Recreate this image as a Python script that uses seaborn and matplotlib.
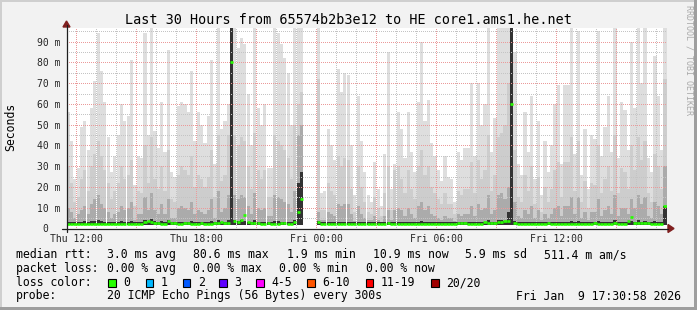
import numpy as np
import pandas as pd
import matplotlib
matplotlib.use("Agg")
import matplotlib.pyplot as plt
import seaborn as sns
from matplotlib.patches import Rectangle, Polygon
from matplotlib.lines import Line2D
from matplotlib.ticker import FixedLocator, MultipleLocator, FuncFormatter

nan = np.nan

# ---------------- data ----------------
title = "Last 30 Hours from 65574b2b3e12 to HE core1.ams1.he.net"
start_hour = -0.4839      # Thu 11:30:58, hours relative to Thu 12:00
bin_hours = 1 / 6         # 10-minute bins
min_rtt = 1.9             # ms

smoke_max = [
    56, 42, 24, 29, 49, 52, 38, 58, 71, 94, 76, 61, 44, 27, 35, 45, 60, 52, 54, 81, 21, 35, 34, 94, 45, 97, 47, 39, 61, 37,
    86, 27, 25, 59, 61, 60, 56, 76, 42, 56, 50, 41, 54, 81, 31, 97, 48, 52, 60, 97, 97, 87, 92, 89, 65, 40, 97, 58, 50, 60,
    29, 29, 97, 94, 89, 82, 75, 50, 97, 97, 97, nan, nan, nan, nan, 97, 17, 18, 48, 40, 33, 77, 66, 75, 74, 40, 16, 64, 42, 27,
    16, 13, 32, 19, 11, 36, 85, 19, 31, 56, 48, 34, 56, 37, 27, 61, 90, 52, 62, 41, 35, 28, 23, 35, 25, 24, 13, 37, 33, 39,
    39, 70, 35, 70, 50, 60, 97, 37, 53, 97, 97, 97, 97, 97, 85, 31, 26, 56, 37, 64, 24, 52, 16, 42, 27, 40, 60, 69, 31, 69,
    69, 97, 36, 95, 26, 48, 19, 45, 43, 95, 35, 49, 64, 37, 97, 34, 61, 57, 38, 90, 58, 97, 70, 97, 34, 27, 83, 64, 38, 97,
]
smoke_mid = [
    30, 22, 13, 15, 24, 28, 18, 30, 36, 42, 35, 28, 22, 14, 18, 22, 30, 24, 26, 33, 11, 18, 17, 40, 22, 44, 24, 19, 30, 18,
    38, 14, 13, 26, 30, 28, 26, 35, 20, 26, 24, 20, 25, 38, 15, 45, 23, 26, 45, 97, 45, 40, 44, 42, 30, 19, 46, 28, 24, 28,
    15, 15, 45, 42, 40, 38, 34, 24, 50, 60, 66, nan, nan, nan, nan, 72, 9, 9, 22, 18, 16, 35, 30, 34, 33, 19, 8, 30, 20, 13,
    8, 7, 15, 10, 6, 17, 30, 9, 28, 30, 24, 17, 28, 19, 14, 30, 38, 26, 30, 20, 17, 14, 12, 17, 12, 12, 7, 18, 16, 19,
    19, 32, 17, 33, 24, 28, 45, 18, 26, 44, 46, 50, 70, 97, 38, 15, 13, 26, 18, 30, 12, 25, 8, 20, 13, 19, 28, 32, 15, 32,
    32, 44, 18, 42, 13, 23, 10, 22, 21, 40, 17, 24, 30, 18, 45, 17, 29, 27, 19, 40, 28, 44, 33, 42, 17, 13, 36, 30, 19, 72,
]
smoke_low = [
    10, 8, 5, 7, 9, 11, 7, 12, 14, 16, 12, 10, 8, 5, 7, 8, 11, 9, 10, 13, 4, 7, 7, 15, 9, 17, 9, 7, 12, 7,
    14, 5, 5, 10, 11, 10, 9, 13, 7, 9, 8, 7, 9, 14, 5, 18, 8, 10, 16, 97, 16, 14, 16, 15, 11, 7, 17, 10, 9, 10,
    6, 6, 16, 15, 14, 13, 12, 8, 18, 45, 50, nan, nan, nan, nan, 8, 4, 4, 8, 7, 6, 12, 11, 12, 12, 7, 3.5, 11, 7, 5,
    4, 4, 6, 4, 3, 6, 9, 4, 9, 10, 9, 6, 10, 7, 5, 11, 13, 9, 11, 7, 6, 5, 4, 6, 5, 5, 3.5, 7, 6, 7,
    7, 11, 6, 12, 9, 10, 16, 7, 9, 16, 17, 14, 20, 97, 13, 6, 5, 9, 7, 11, 5, 9, 4, 7, 5, 7, 10, 11, 6, 11,
    11, 15, 7, 15, 5, 8, 4, 8, 8, 14, 6, 9, 11, 7, 16, 6, 10, 10, 7, 14, 10, 16, 12, 15, 6, 5, 13, 11, 7, 30,
]
smoke_core = [
    3.3, 2.9, 2.9, 2.9, 3.3, 3.8, 2.9, 3.8, 3.8, 4.3, 3.8, 3.3, 2.9, 2.9, 2.9, 3.3, 3.8, 3.3, 3.3, 3.8, 2.9, 2.9, 2.9, 4.3, 3.3, 4.8, 3.8, 2.9, 3.8, 2.9,
    4.3, 2.9, 2.9, 3.3, 3.3, 3.3, 2.9, 3.8, 2.9, 2.9, 2.9, 2.9, 3.3, 3.8, 2.9, 4.3, 2.9, 3.3, 4.3, 97, 4.3, 3.8, 4.3, 3.8, 3.3, 2.9, 4.3, 3.3, 2.9, 3.3,
    2.9, 2.9, 3.8, 3.8, 3.3, 3.3, 3.3, 2.9, 4.3, 22, 27, nan, nan, nan, nan, 3.8, 2.9, 2.9, 2.9, 2.9, 2.9, 3.3, 3.3, 3.3, 3.3, 2.9, 2.9, 3.3, 2.9, 2.9,
    2.9, 2.9, 2.9, 2.9, 2.9, 2.9, 3.3, 2.9, 3.3, 3.3, 3.3, 2.9, 3.3, 2.9, 2.9, 3.3, 3.8, 3.3, 3.3, 2.9, 2.9, 2.9, 2.9, 2.9, 2.9, 2.9, 2.9, 2.9, 2.9, 2.9,
    2.9, 3.3, 2.9, 3.3, 3.3, 3.3, 4.3, 2.9, 3.3, 4.3, 4.3, 3.8, 8, 97, 3.8, 2.9, 2.9, 3.3, 2.9, 3.3, 2.9, 3.3, 2.9, 2.9, 2.9, 2.9, 3.3, 3.3, 2.9, 3.3,
    3.3, 3.8, 2.9, 3.8, 2.9, 2.9, 2.9, 2.9, 2.9, 3.8, 2.9, 3.3, 3.3, 2.9, 4.3, 2.9, 3.3, 3.3, 2.9, 3.8, 3.3, 4.3, 3.3, 3.8, 2.9, 2.9, 3.8, 3.3, 2.9, 11,
]
median_rtt = [
    2.4, 2.4, 2.4, 2.4, 2.4, 2.4, 2.4, 2.4, 2.4, 2.4, 2.4, 2.4, 2.4, 2.4, 2.4, 2.4, 2.4, 2.4, 2.4, 2.4, 2.4, 2.4, 2.4, 3.2, 3.6, 3.0, 2.6, 2.5, 2.4, 2.4,
    3.8, 2.6, 2.5, 2.4, 2.4, 2.5, 2.6, 2.4, 2.4, 2.4, 2.5, 2.4, 2.4, 2.4, 2.5, 2.6, 3.0, 2.8, 2.6, 80, 3.5, 3.0, 4.0, 6.5, 3.0, 2.6, 2.5, 2.5, 2.4, 2.4,
    2.5, 2.4, 2.4, 2.4, 2.6, 2.5, 2.4, 2.4, 3.0, 8.0, 14.0, nan, nan, nan, nan, 3.0, 2.4, 2.4, 2.4, 2.4, 2.4, 2.4, 2.4, 2.4, 2.4, 2.4, 2.4, 2.4, 2.4, 2.4,
    2.4, 2.4, 2.4, 2.4, 2.4, 2.4, 2.6, 2.4, 2.4, 2.4, 2.4, 2.4, 2.4, 2.4, 2.4, 2.4, 2.4, 2.4, 2.4, 2.4, 2.4, 2.4, 2.4, 2.4, 2.4, 2.4, 2.4, 2.5, 2.8, 2.6,
    2.4, 2.4, 2.4, 2.4, 2.4, 3.0, 2.6, 2.5, 2.6, 3.0, 3.2, 3.4, 3.4, 60, 2.5, 2.4, 2.4, 2.4, 2.4, 2.4, 2.4, 2.4, 2.4, 2.4, 2.5, 2.4, 2.4, 2.4, 2.4, 2.4,
    2.4, 2.4, 2.4, 2.4, 2.4, 2.4, 2.4, 2.4, 2.5, 2.4, 2.4, 2.4, 2.4, 2.4, 2.5, 2.4, 2.4, 2.4, 3.5, 5.6, 2.6, 2.5, 2.6, 2.5, 2.5, 2.4, 2.4, 2.4, 2.4, 10.9,
]

x_tick_hours = [0, 6, 12, 18, 24]
x_tick_labels = ["Thu 12:00", "Thu 18:00", "Fri 00:00", "Fri 06:00", "Fri 12:00"]
y_tick_values = [0, 10, 20, 30, 40, 50, 60, 70, 80, 90]
y_tick_labels = ["0  ", "10 m", "20 m", "30 m", "40 m", "50 m", "60 m", "70 m", "80 m", "90 m"]

median_stats = ["3.0 ms avg", "80.6 ms max", "1.9 ms min", "10.9 ms now", "5.9 ms sd", "511.4 m am/s"]
loss_stats = ["0.00 % avg", "0.00 % max", "0.00 % min", "0.00 % now"]
loss_labels = ["0", "1", "2", "3", "4-5", "6-10", "11-19", "20/20"]
loss_colors = ["#26ff00", "#00b8ff", "#0059ff", "#5e00ff", "#ff00ff", "#ff5500", "#ff0000", "#a10000"]
probe_text = "20 ICMP Echo Pings (56 Bytes) every 300s"
timestamp = "Fri Jan  9 17:30:58 2026"

# ---------------- style ----------------
sns.set_style("white")
plt.rcParams["font.family"] = ["DejaVu Sans Mono"]
plt.rcParams["text.color"] = "#000000"

W, H = 697, 310
fig = plt.figure(figsize=(W / 100, H / 100), dpi=100)
fig.patch.set_facecolor("#f2f2f2")


def fx(x):
    return x / W


def fy(y):
    return 1 - y / H


AX_L, AX_R, AX_T, AX_B = 66.5, 666.5, 28.0, 228.5
ax = fig.add_axes([fx(AX_L), fy(AX_B), (AX_R - AX_L) / W, (AX_B - AX_T) / H])
ax.set_facecolor("white")

n = len(smoke_max)
left = start_hour + np.arange(n) * bin_hours

layers = [
    (smoke_max, "#dedede"),
    (smoke_mid, "#cdcdcd"),
    (smoke_low, "#ababab"),
    (smoke_core, "#333333"),
]
for vals, col in layers:
    v = np.asarray(vals, dtype=float)
    ax.bar(left, v - min_rtt, width=bin_hours, bottom=min_rtt, align="edge",
           color=col, linewidth=0, antialiased=False, zorder=1)

# median: one short segment per 10-minute bin, coloured by loss (all 0 %)
rows = []
for i, m in enumerate(median_rtt):
    if np.isnan(m):
        continue
    rows.append({"t": left[i], "rtt": m, "bin": i})
    rows.append({"t": left[i] + bin_hours, "rtt": m, "bin": i})
med_df = pd.DataFrame(rows)
sns.lineplot(data=med_df, x="t", y="rtt", units="bin", estimator=None,
             color=loss_colors[0], linewidth=1.9, solid_capstyle="butt",
             legend=False, ax=ax, zorder=4)

ax.set_xlim(start_hour, start_hour + n * bin_hours)
ax.set_ylim(0, 96.6)
ax.set_xlabel("")
ax.set_ylabel("")

# grid
ax.xaxis.set_major_locator(FixedLocator(np.arange(0, 30, 3)))
ax.xaxis.set_minor_locator(MultipleLocator(1))
lab = dict(zip(x_tick_hours, x_tick_labels))
ax.xaxis.set_major_formatter(FuncFormatter(lambda v, p: lab.get(int(round(v)), "")))
ax.yaxis.set_major_locator(FixedLocator(y_tick_values))
ax.yaxis.set_minor_locator(MultipleLocator(5))
ylab = dict(zip(y_tick_values, y_tick_labels))
ax.yaxis.set_major_formatter(FuncFormatter(lambda v, p: ylab.get(int(round(v)), "")))

ax.set_axisbelow(False)
ax.grid(which="major", color="#eb9a9a", linewidth=0.72, linestyle=(0, (1, 2)), zorder=3)
ax.grid(which="minor", color="#c4c4c4", linewidth=0.72, linestyle=(0, (1, 2)), zorder=3)
for gl in ax.get_xgridlines() + ax.get_ygridlines():
    gl.set_zorder(3)
    gl.set_antialiased(False)
for tk in ax.xaxis.get_minor_ticks() + ax.yaxis.get_minor_ticks():
    tk.gridline.set_antialiased(False)

ax.tick_params(axis="x", which="major", length=2.2, width=0.72, color="#de4f4f",
               direction="out", pad=2.0, labelsize=7)
ax.tick_params(axis="x", which="minor", length=2.2, width=0.72, color="#b0b0b0", direction="out")
ax.tick_params(axis="y", which="major", length=2.2, width=0.72, color="#de4f4f",
               direction="out", pad=2.2, labelsize=7)
ax.tick_params(axis="y", which="minor", length=2.2, width=0.72, color="#b0b0b0", direction="out")
for s in ax.spines.values():
    s.set_visible(False)

# axes lines and arrows (rrdtool style)
fig.add_artist(Line2D([fx(62), fx(668)], [fy(AX_B), fy(AX_B)], color="#1f1f1f", lw=0.9))
fig.add_artist(Line2D([fx(AX_L), fx(AX_L)], [fy(232), fy(25)], color="#1f1f1f", lw=0.9))
fig.add_artist(Polygon([[fx(668), fy(224.5)], [fx(668), fy(232.5)], [fx(674), fy(228.5)]],
                       closed=True, color="#801f1f", transform=fig.transFigure))
fig.add_artist(Polygon([[fx(63), fy(27)], [fx(70), fy(27)], [fx(66.5), fy(21)]],
                       closed=True, color="#801f1f", transform=fig.transFigure))

# title and side texts
fig.text(fx(348.3), fy(24.3), title, ha="center", va="baseline", fontsize=9.75)
fig.text(fx(10.5), fy(127), "Seconds", rotation=90, ha="center", va="center", fontsize=8.3)
fig.text(fx(688.5), fy(60), "RRDTOOL / TOBI OETIKER", rotation=270, ha="center", va="center",
         fontsize=6.0, color="#aaaaaa")

# legend block
FS = 8.3
row_y = [258.0, 272.0, 286.0, 299.5]
fig.text(fx(16), fy(row_y[0]), "median rtt:", fontsize=FS, va="baseline")
for xpos, s in zip([107.3, 193.3, 287.0, 372.7, 465.0, 544.3], median_stats):
    fig.text(fx(xpos), fy(row_y[0]), s, fontsize=FS, va="baseline")
fig.text(fx(16), fy(row_y[1]), "packet loss:", fontsize=FS, va="baseline")
for xpos, s in zip([107.3, 193.3, 279.3, 365.7], loss_stats):
    fig.text(fx(xpos), fy(row_y[1]), s, fontsize=FS, va="baseline")
fig.text(fx(16), fy(row_y[2]), "loss color:", fontsize=FS, va="baseline")
for bx, s, c in zip([108.3, 145.7, 182.7, 219.3, 256.0, 307.3, 365.7, 431.0], loss_labels, loss_colors):
    fig.add_artist(Rectangle((fx(bx), fy(286.5)), 7.5 / W, 8.0 / H, facecolor=c,
                             edgecolor="black", linewidth=0.8, transform=fig.transFigure))
    fig.text(fx(bx + 15), fy(row_y[2]), s, fontsize=FS, va="baseline")
fig.text(fx(16), fy(row_y[3]), "probe:", fontsize=FS, va="baseline")
fig.text(fx(107.3), fy(row_y[3]), probe_text, fontsize=FS, va="baseline")
fig.text(fx(680.5), fy(row_y[3]), timestamp, fontsize=FS, va="baseline", ha="right")

# 3D frame
fig.add_artist(Rectangle((0, fy(2)), 1, 2 / H, color="#cfcfcf", transform=fig.transFigure, lw=0))
fig.add_artist(Rectangle((0, 0), 2 / W, 1, color="#cfcfcf", transform=fig.transFigure, lw=0))
fig.add_artist(Rectangle((0, 0), 1, 3 / H, color="#9e9e9e", transform=fig.transFigure, lw=0))
fig.add_artist(Rectangle((1 - 3 / W, 0), 3 / W, 1, color="#9e9e9e", transform=fig.transFigure, lw=0))

fig.savefig("out.png", dpi=100, facecolor=fig.get_facecolor())
